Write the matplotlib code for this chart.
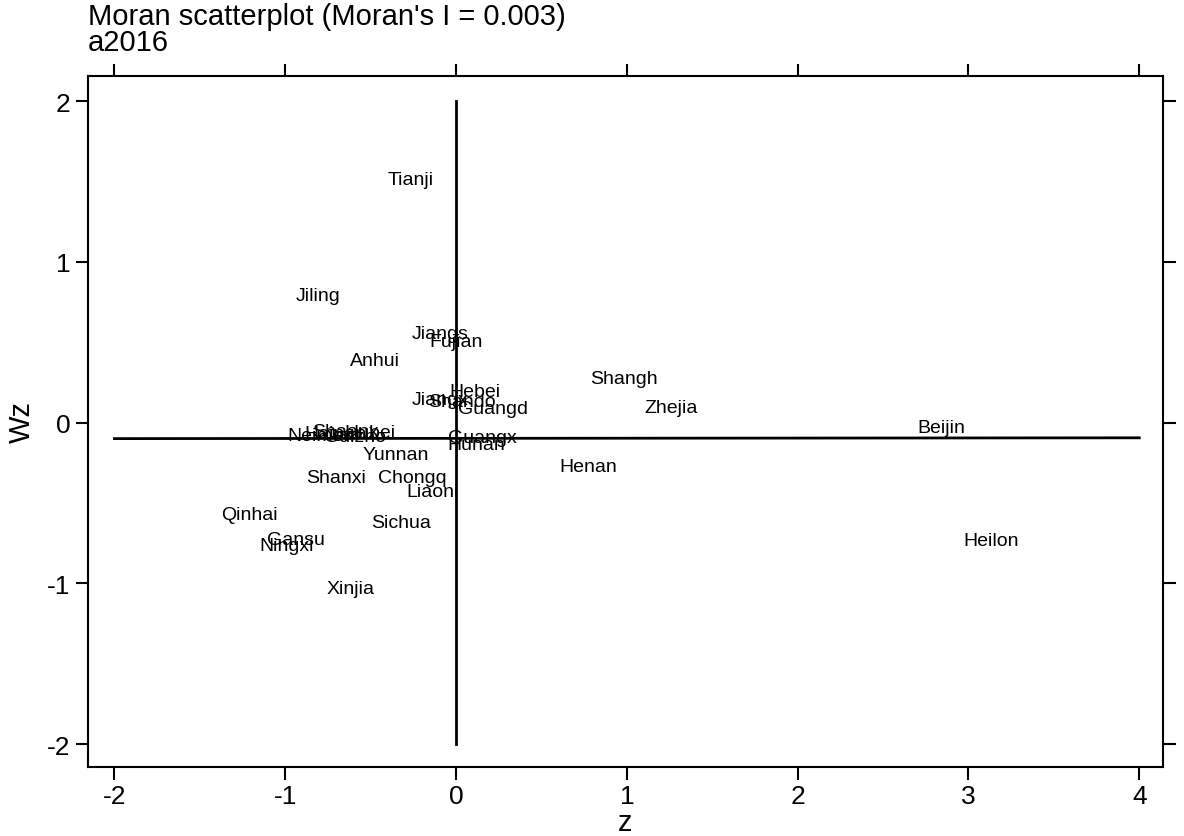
import matplotlib
matplotlib.use("Agg")
import matplotlib.pyplot as plt
import numpy as np

plt.rcParams['font.family'] = ['Liberation Sans', 'DejaVu Sans']
plt.rcParams['axes.unicode_minus'] = False

names = ["Tianji", "Jiling", "Jiangs", "Fujian", "Anhui", "Shangh", "Zhejia",
         "Beijin", "Heilon", "Henan", "Hebei", "Guangd", "Jiangx", "Shando",
         "Guangx", "Hunan", "Yunnan", "Shanxi", "Chongq", "Liaoni", "Sichua",
         "Qinhai", "Gansu", "Ningxi", "Xinjia", "Neimen", "Shaanx", "Hubei",
         "Guizho", "Hainan"]
z = [-0.263, -0.808, -0.094, 0.0, -0.474, 0.984, 1.259,
     2.84, 3.13, 0.773, 0.111, 0.217, -0.094, 0.035,
     0.152, 0.117, -0.351, -0.703, -0.258, -0.135, -0.322,
     -1.212, -0.937, -0.995, -0.615, -0.79, -0.65, -0.504,
     -0.591, -0.708]
wz = [1.515, 0.793, 0.551, 0.507, 0.383, 0.277, 0.096,
      -0.028, -0.731, -0.271, 0.196, 0.090, 0.146, 0.128,
      -0.09, -0.134, -0.196, -0.345, -0.345, -0.432, -0.619,
      -0.575, -0.725, -0.762, -1.030, -0.078, -0.053, -0.059,
      -0.084, -0.066]

# reference lines
h_x = [-2, 4]
h_y = [-0.1, -0.095]
v_x = [0, 0]
v_y = [-2, 2]

xticks = [-2, -1, 0, 1, 2, 3, 4]
yticks = [-2, -1, 0, 1, 2]

fig = plt.figure(figsize=(11.84, 8.37), dpi=100)
ax = fig.add_axes([88 / 1184, 1 - 768 / 837, (1163 - 88) / 1184, (768 - 77) / 837])

ax.plot(h_x, h_y, color='black', lw=2)
ax.plot(v_x, v_y, color='black', lw=2)

for n, xv, yv in zip(names, z, wz):
    ax.text(xv, yv, n, ha='center', va='center', fontsize=14, color='black')

ax.set_xlim(-2.155, 4.139)
ax.set_ylim(-2.143, 2.156)
ax.set_xticks(xticks)
ax.set_yticks(yticks)
ax.tick_params(axis='both', direction='out', length=9, width=1.5, labelsize=19,
               top=True, right=True, labeltop=False, labelright=False)
for s in ax.spines.values():
    s.set_linewidth(1.5)

ax.set_xlabel('z', fontsize=21, labelpad=0)
ax.set_ylabel('Wz', fontsize=21, labelpad=8)

fig.text(88 / 1184, 1 - 17 / 837, "Moran scatterplot (Moran's I = 0.003)",
         fontsize=21, va='center', ha='left')
fig.text(88 / 1184, 1 - 43 / 837, "a2016", fontsize=21, va='center', ha='left')

fig.savefig('out.png', dpi=100)
